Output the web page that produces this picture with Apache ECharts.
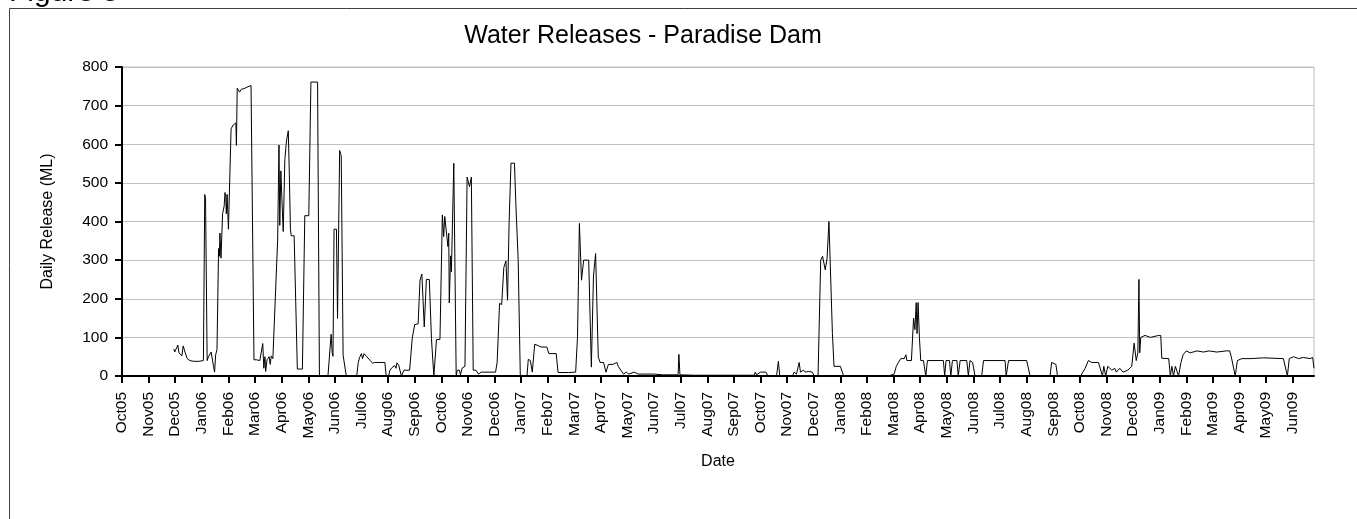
<!DOCTYPE html>
<html>
<head>
<meta charset="utf-8">
<script src="https://cdn.jsdelivr.net/npm/echarts@6/dist/echarts.min.js"></script>
<style>
  html, body { margin: 0; padding: 0; background: #ffffff; }
  #chart { width: 1357px; height: 519px; }
</style>
</head>
<body>
<div id="chart"></div>
<script>
// Month tick labels (x position 0 = Oct05, 1 = Nov05, ...)
const monthLabels = ['Oct05','Nov05','Dec05','Jan06','Feb06','Mar06','Apr06','May06','Jun06','Jul06','Aug06','Sep06',
  'Oct06','Nov06','Dec06','Jan07','Feb07','Mar07','Apr07','May07','Jun07','Jul07','Aug07','Sep07',
  'Oct07','Nov07','Dec07','Jan08','Feb08','Mar08','Apr08','May08','Jun08','Jul08','Aug08','Sep08',
  'Oct08','Nov08','Dec08','Jan09','Feb09','Mar09','Apr09','May09','Jun09'];

// Release date in months since start of Oct05 (fractional)
const releaseTime = [
  1.95,1.98,2.02,2.06,2.1,2.14,2.2,2.25,2.3,2.37,2.45,2.55,2.7,2.9,3.06,3.11,3.14,3.2,3.25,3.3,3.35,3.4,3.44,3.48,
  3.52,3.57,3.6,3.63,3.66,3.68,3.72,3.78,3.84,3.87,3.9,3.92,3.95,4.0,4.03,4.1,4.18,4.24,4.28,4.3,4.33,4.38,4.42,4.48,
  4.55,4.62,4.7,4.77,4.85,4.9,4.96,5.05,5.12,5.18,5.24,5.29,5.33,5.37,5.4,5.45,5.53,5.57,5.61,5.67,5.74,5.85,5.9,5.93,
  5.97,6.02,6.06,6.12,6.17,6.2,6.25,6.29,6.33,6.36,6.47,6.59,6.7,6.78,6.87,7.02,7.1,7.35,7.42,7.74,7.86,7.9,7.93,7.97,
  8.06,8.1,8.18,8.24,8.31,8.38,8.43,8.82,8.88,8.93,9.0,9.04,9.1,9.2,9.33,9.42,9.5,9.7,9.88,9.93,10.02,10.07,10.15,10.25,
  10.3,10.33,10.4,10.5,10.56,10.6,10.81,10.91,11.0,11.13,11.2,11.27,11.36,11.44,11.55,11.63,11.72,11.82,11.95,12.04,
  12.09,12.13,12.2,12.25,12.28,12.3,12.35,12.38,12.47,12.56,12.6,12.68,12.72,12.78,12.89,12.97,13.06,13.13,13.2,13.3,
  13.4,13.5,14.04,14.1,14.19,14.27,14.35,14.43,14.49,14.55,14.62,14.75,14.8,14.89,14.97,15.22,15.27,15.35,15.42,15.51,
  15.6,15.75,15.97,16.04,16.32,16.39,16.79,16.85,17.05,17.12,17.19,17.27,17.35,17.54,17.64,17.72,17.8,17.9,17.97,18.1,
  18.19,18.28,18.45,18.6,18.65,18.75,18.85,18.95,19.05,19.25,19.3,19.4,20.0,20.3,20.9,20.93,20.97,21.5,23.5,23.76,
  23.8,23.85,24.0,24.2,24.24,24.28,24.6,24.67,24.72,25.2,25.26,25.35,25.4,25.45,25.5,25.6,25.7,25.8,25.94,26.02,26.16,
  26.26,26.33,26.43,26.5,26.57,26.63,26.7,26.76,27.0,27.07,27.12,27.18,28.8,28.85,29.02,29.1,29.18,29.27,29.4,29.46,
  29.5,29.67,29.75,29.8,29.85,29.88,29.92,29.97,30.02,30.12,30.21,30.27,30.87,30.92,30.97,31.1,31.15,31.21,31.38,31.43,
  31.5,31.75,31.81,31.87,31.97,32.06,32.31,32.38,33.19,33.23,33.32,33.56,33.63,33.75,33.8,34.0,34.07,34.13,34.88,34.94,
  35.1,35.16,36.03,36.11,36.2,36.32,36.45,36.7,36.85,36.9,36.97,37.05,37.12,37.2,37.31,37.37,37.5,37.62,37.8,37.95,
  38.04,38.12,38.18,38.22,38.25,38.29,38.45,38.65,38.96,39.04,39.08,39.34,39.4,39.46,39.52,39.59,39.71,39.8,39.88,40.0,
  40.15,40.4,40.65,40.85,41.15,41.5,41.63,41.69,41.84,41.92,42.09,42.4,42.9,43.65,43.8,43.87,44.03,44.22,44.4,44.65,
  44.75,44.8
];

// Daily release (ML) at each time above
const releaseML = [
  70,62,68,65,80,60,58,52,78,62,45,40,38,38,40,470,460,40,50,55,62,60,25,10,
  55,68,65,330,310,370,305,420,440,475,465,420,470,380,375,640,650,655,655,597,745,740,735,742,
  740,745,748,752,752,750,42,42,38,40,35,84,20,50,12,42,50,30,52,45,45,352,598,390,
  531,440,374,560,600,616,635,520,380,363,363,18,18,18,415,415,761,761,0,0,108,60,51,380,
  380,149,584,570,54,54,0,0,35,48,58,45,58,50,40,33,35,35,35,0,0,15,22,27,
  20,34,28,0,0,15,15,99,133,135,248,264,127,250,250,97,0,94,95,417,
  361,413,410,335,370,189,311,270,551,0,15,15,3,20,25,515,490,515,15,15,
  5,10,10,36,188,185,281,298,196,400,551,551,450,300,0,0,43,40,10,82,
  80,75,75,58,58,9,9,5,10,101,395,248,300,300,23,259,317,49,35,35,
  10,30,30,35,25,15,5,10,5,10,15,5,5,3,3,56,3,2,2,2,
  10,3,10,10,15,0,0,38,0,0,10,5,8,35,10,15,10,12,10,0,0,
  300,310,275,305,400,400,110,25,25,30,0,0,0,5,5,25,35,45,45,55,
  40,40,150,120,190,110,190,100,40,40,0,40,40,0,40,40,0,40,40,0,
  40,40,0,40,35,0,0,40,40,0,40,40,45,40,45,40,40,0,0,35,
  30,0,0,10,20,40,35,35,0,25,0,25,30,15,20,10,20,10,15,25,
  85,40,60,250,60,100,105,100,105,105,46,45,0,25,0,25,0,35,55,65,
  60,65,62,65,62,65,65,50,0,40,45,45,47,45,0,45,50,45,48,45,
  48,20
];

// Y axis ticks
const yTicks = [0, 100, 200, 300, 400, 500, 600, 700, 800];

const FONT = "'Liberation Sans', Arial, sans-serif";
const chart = echarts.init(document.getElementById('chart'), null, { renderer: 'canvas' });

const seriesData = releaseTime.map((t, i) => [t, releaseML[i]]);
const tickIdx = monthLabels.map((_, i) => i);

chart.setOption({
  animation: false,
  backgroundColor: '#ffffff',
  title: {
    text: 'Water Releases - Paradise Dam',
    left: 638,
    top: 19,
    textAlign: 'center',
    textStyle: { fontFamily: FONT, fontSize: 25, fontWeight: 'normal', color: '#000' }
  },
  graphic: [
    {
      type: 'rect', silent: true, z: -1,
      shape: { x: 9.5, y: 8.5, width: 1400, height: 600 },
      style: { fill: 'none', stroke: '#404040', lineWidth: 1 }
    },
    {
      type: 'text', left: 9, top: -22,
      style: { text: 'Figure 5', font: '30px ' + FONT, fill: '#000' }
    }
  ],
  grid: {
    left: 122, right: 43, top: 67, bottom: 143,
    show: true, borderColor: '#c0c0c0', borderWidth: 1, backgroundColor: 'transparent'
  },
  xAxis: {
    type: 'value',
    min: 0, max: 44.8,
    name: 'Date',
    nameLocation: 'middle',
    nameGap: 78,
    nameTextStyle: { fontFamily: FONT, fontSize: 16, color: '#000', verticalAlign: 'top' },
    axisLine: { show: true, onZero: false, lineStyle: { color: '#000', width: 2 } },
    axisTick: { show: true, customValues: tickIdx, length: 7, inside: false, lineStyle: { color: '#000', width: 2 } },
    axisLabel: {
      customValues: tickIdx,
      rotate: 90,
      margin: 16,
      fontFamily: FONT, fontSize: 15.5, color: '#000',
      formatter: v => monthLabels[Math.round(v)] || ''
    },
    splitLine: { show: false }
  },
  yAxis: {
    type: 'value',
    min: yTicks[0], max: yTicks[yTicks.length - 1], interval: 100,
    name: 'Daily Release (ML)',
    nameLocation: 'middle',
    nameGap: 66,
    nameTextStyle: { fontFamily: FONT, fontSize: 16, color: '#000' },
    axisLine: { show: true, lineStyle: { color: '#000', width: 2 } },
    axisTick: { show: true, length: 7, lineStyle: { color: '#000', width: 2 } },
    axisLabel: { margin: 14, fontFamily: FONT, fontSize: 15.5, color: '#000' },
    splitLine: { show: true, lineStyle: { color: '#c0c0c0', width: 1 } }
  },
  series: [{
    type: 'line',
    data: seriesData,
    showSymbol: false,
    symbol: 'none',
    lineStyle: { color: '#000', width: 1 },
    clip: true
  }]
});
</script>
</body>
</html>
